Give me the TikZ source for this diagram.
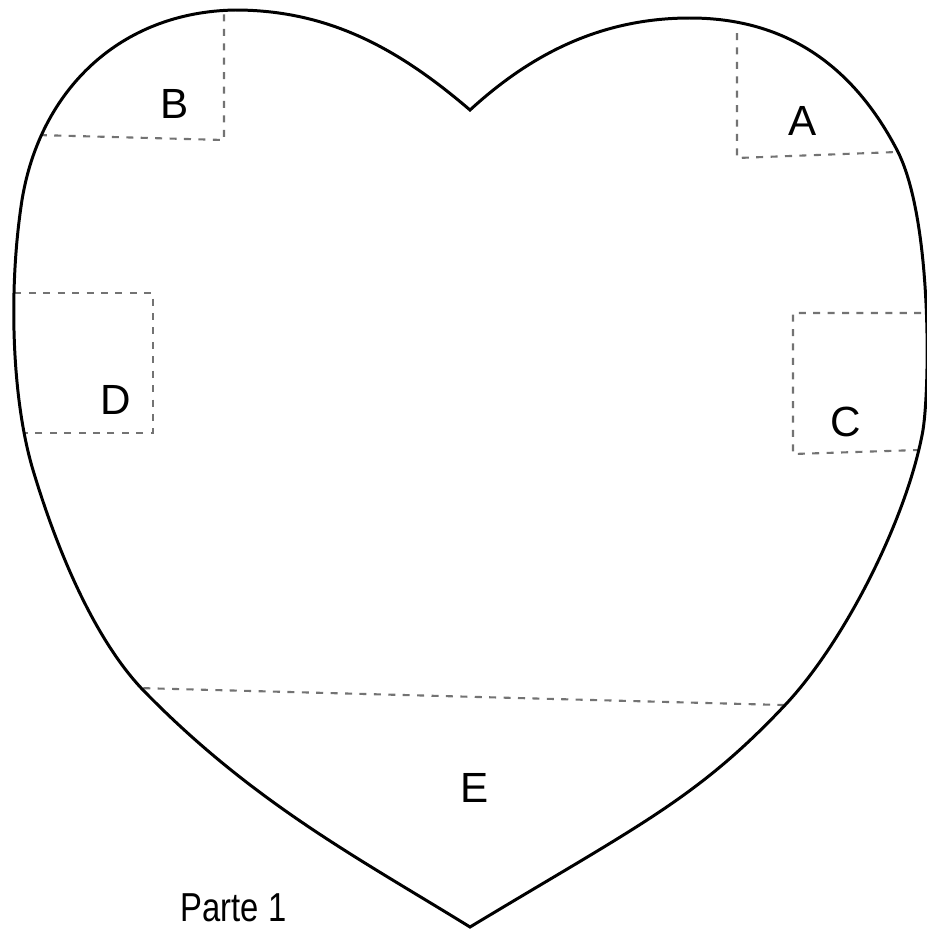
\documentclass[tikz,border=0pt]{standalone}
\usepackage{fontspec}
\setmainfont{Liberation Sans}
\newfontfamily\partefont[FakeStretch=0.81]{Liberation Sans}
\usetikzlibrary{positioning}

% outline of the heart, in pixel units
\newcommand{\heartoutline}{(470,110)
  .. controls (400,50) and (330,10) .. (235,10)
  .. controls (120,12) and (40,90) .. (22,200)
  .. controls (8,290) and (12,400) .. (33,470)
  .. controls (60,560) and (98,643) .. (143,690)
  .. controls (253,803) and (360,859) .. (470,927)
  .. controls (641,824) and (698,798) .. (787,703)
  .. controls (847,638) and (908,515) .. (923,430)
  .. controls (930,385) and (932,217) .. (897,150)
  .. controls (850,60) and (780,18) .. (690,18)
  .. controls (600,18) and (530,55) .. cycle}

\begin{document}
\begin{tikzpicture}[
    x=0.01cm, y=-0.01cm,
    outline/.style={draw=black, line width=0.85pt, line join=miter},
    cutline/.style={draw=black!55, line width=0.6pt,
                    dash pattern=on 2pt off 2.1pt},
    lbl/.style={font=\fontsize{12}{14}\selectfont, inner sep=0pt},
    tag/.style={font=\partefont\fontsize{11.5}{13}\selectfont, inner sep=0pt}
  ]
    \useasboundingbox (0,0) rectangle (926,930);

    % corners of the cut lines
    \coordinate (bTop)  at (224,0);
    \coordinate (bCor)  at (224,140);
    \coordinate (bEnd)  at (0,134);
    \coordinate (aTop)  at (737,33);
    \coordinate (aCor)  at (737,158);
    \coordinate (aEnd)  at (950,150);
    \coordinate (dTop)  at (0,293);
    \coordinate (dCor1) at (153,293);
    \coordinate (dCor2) at (153,433);
    \coordinate (dEnd)  at (0,433);
    \coordinate (cTop)  at (950,313);
    \coordinate (cCor1) at (793,313);
    \coordinate (cCor2) at (793,454);
    \coordinate (cEnd)  at (950,449);
    \coordinate (eLeft) at (100,687);
    \coordinate (eRight) at (820,706);

    \begin{scope}
      \clip \heartoutline;
      \draw[cutline] (bTop) -- (bCor) -- (bEnd);
      \draw[cutline] (aTop) -- (aCor) -- (aEnd);
      \draw[cutline] (dTop) -- (dCor1) -- (dCor2) -- (dEnd);
      \draw[cutline] (cTop) -- (cCor1) -- (cCor2) -- (cEnd);
      \draw[cutline] (eLeft) -- (eRight);
    \end{scope}

    \draw[outline] \heartoutline;

    \node[lbl] (lblA) at (803,121) {A};
    \node[lbl] (lblB) at (175,104) {B};
    \node[lbl] (lblC) at (846,422) {C};
    \node[lbl] (lblD) at (116,400) {D};
    \node[lbl] (lblE) at (475,788) {E};
    \node[tag, anchor=base west] (parte) at (180,921) {Parte 1};
  \end{tikzpicture}
\end{document}
